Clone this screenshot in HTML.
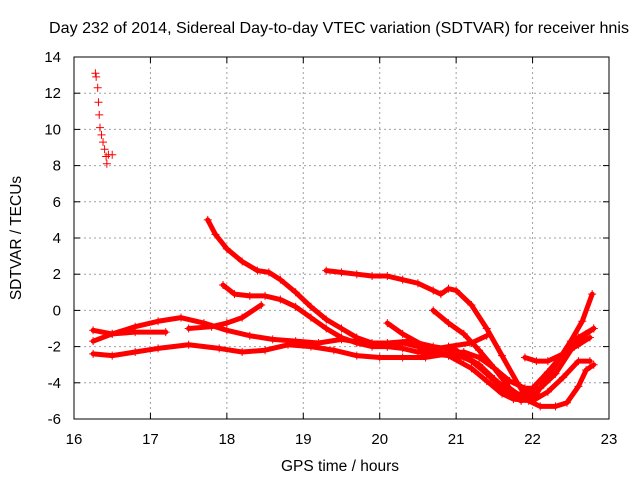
<!DOCTYPE html>
<html><head><meta charset="utf-8"><style>
body{margin:0;background:#fff}
svg{display:block;font-family:"Liberation Sans",sans-serif}
</style></head><body>
<svg id="c" width="640" height="480"></svg>
<script>
const xTicks=[16,17,18,19,20,21,22,23];
const yTicks=[14,12,10,8,6,4,2,0,-2,-4,-6];
const sSpike=[[16.28,13.1],[16.29,12.9],[16.31,12.3],[16.32,11.5],[16.33,10.8],[16.34,10.1],[16.36,9.7],[16.38,9.3],[16.40,8.9],[16.42,8.5],[16.43,8.1],[16.45,8.6],[16.5,8.6]];
const s1=[[17.75,5],[17.85,4.2],[18.0,3.4],[18.2,2.7],[18.4,2.2],[18.55,2.1],[18.7,1.7],[18.9,1.0],[19.1,0.2],[19.3,-0.5],[19.5,-1.0],[19.7,-1.5],[19.9,-1.8],[20.1,-2.0],[20.3,-2.1],[20.5,-2.3],[20.7,-2.4],[20.9,-2.5],[21.1,-2.6],[21.3,-3.0],[21.5,-3.8],[21.7,-4.5],[21.9,-4.7],[22.0,-4.5]];
const s2=[[17.95,1.4],[18.1,0.9],[18.3,0.8],[18.5,0.8],[18.7,0.6],[18.9,0.2],[19.1,-0.4],[19.3,-1.0],[19.5,-1.5],[19.7,-1.8],[19.9,-2.0],[20.1,-2.0],[20.3,-1.8],[20.5,-2.0],[20.7,-2.3],[20.9,-2.4],[21.1,-2.5],[21.3,-3.0],[21.5,-3.8],[21.7,-4.6],[21.85,-5.0],[22.0,-4.8]];
const s3=[[19.3,2.2],[19.5,2.1],[19.7,2.0],[19.9,1.9],[20.1,1.9],[20.3,1.7],[20.5,1.5],[20.7,1.1],[20.8,0.9],[20.9,1.2],[21.0,1.1],[21.2,0.3],[21.4,-1.0],[21.6,-2.5],[21.8,-4.0],[21.95,-5.0],[22.1,-5.3],[22.3,-5.3],[22.45,-5.1],[22.6,-4.2],[22.7,-3.3],[22.8,-3.0]];
const s4=[[16.25,-2.4],[16.5,-2.5],[16.8,-2.3],[17.1,-2.1],[17.5,-1.9],[17.9,-2.1],[18.2,-2.3],[18.5,-2.2],[18.8,-1.9],[19.1,-2.0],[19.4,-2.2],[19.7,-2.5],[20.0,-2.6],[20.3,-2.6],[20.6,-2.6],[20.9,-2.4],[21.1,-2.3],[21.3,-2.6],[21.5,-3.2],[21.7,-3.9],[21.9,-4.3],[22.1,-4.3],[22.3,-3.5],[22.5,-2.2],[22.7,-1.3],[22.8,-1.0]];
const s5=[[16.25,-1.7],[16.5,-1.3],[16.8,-0.9],[17.1,-0.6],[17.4,-0.4],[17.7,-0.7],[18.0,-1.1],[18.3,-1.4],[18.6,-1.6],[18.9,-1.7],[19.2,-1.8],[19.5,-1.6],[19.8,-1.8],[20.1,-1.8],[20.4,-1.7],[20.7,-2.0],[21.0,-2.2],[21.2,-2.8],[21.4,-3.5],[21.6,-4.3],[21.8,-4.7],[22.0,-4.3],[22.2,-3.4],[22.4,-2.4],[22.6,-1.5],[22.8,-1.0]];
const s6=[[16.25,-1.1],[16.5,-1.3],[16.8,-1.2],[17.2,-1.2]];
const s7=[[17.5,-1.0],[17.8,-0.9],[18.0,-0.7],[18.2,-0.4],[18.45,0.3]];
const s8=[[20.1,-0.7],[20.3,-1.3],[20.6,-2.0],[20.9,-2.5],[21.2,-3.2],[21.4,-3.9],[21.6,-4.6],[21.75,-4.9],[22.0,-5.0],[22.2,-4.5],[22.4,-3.7],[22.6,-2.8],[22.75,-2.8]];
const s9=[[20.7,0],[20.9,-0.7],[21.1,-1.3],[21.3,-2.2],[21.5,-3.2],[21.7,-4.3],[21.9,-4.9],[22.05,-4.6],[22.3,-3.0],[22.5,-1.7],[22.65,-0.6],[22.78,0.9]];
const s10=[[21.9,-2.6],[22.05,-2.8],[22.2,-2.8],[22.4,-2.4],[22.6,-1.9],[22.75,-1.5]];
const s11=[[20.5,-2.3],[20.9,-2.0],[21.2,-1.8],[21.4,-1.4]];
const lines=[s1,s2,s3,s4,s5,s6,s7,s8,s9,s10,s11];

const L=74,R=609,T=57,B=419;
const X=v=>L+(v-16)/(23-16)*(R-L);
const Y=v=>B-(v+6)/(20)*(B-T);
const svg=document.getElementById('c');
const NS='http://www.w3.org/2000/svg';
function mk(t,a,p){const e=document.createElementNS(NS,t);for(const k in a)e.setAttribute(k,a[k]);(p||svg).appendChild(e);return e;}
let e;
xTicks.forEach(v=>{
 if(v>16&&v<23){e=mk('line',{x1:X(v),x2:X(v),y1:T,y2:B,stroke:'#a0a0a0','stroke-dasharray':'2,3'});
 }
 e=mk('line',{x1:X(v),x2:X(v),y1:B,y2:B-6,stroke:'#000'});
 e=mk('line',{x1:X(v),x2:X(v),y1:T,y2:T+6,stroke:'#000'});
 e=mk('text',{x:X(v),y:B+25,'text-anchor':'middle','font-size':15});e.textContent=v;
 
});
yTicks.forEach(v=>{
 if(v>-6&&v<14){e=mk('line',{x1:L,x2:R,y1:Y(v),y2:Y(v),stroke:'#a0a0a0','stroke-dasharray':'2,3'});
 }
 e=mk('line',{x1:L,x2:L+6,y1:Y(v),y2:Y(v),stroke:'#000'});
 e=mk('line',{x1:R,x2:R-6,y1:Y(v),y2:Y(v),stroke:'#000'});
 e=mk('text',{x:L-13,y:Y(v)+5,'text-anchor':'end','font-size':15});e.textContent=v;
 
});
lines.forEach((s,i)=>{
 e=mk('polyline',{points:s.map(p=>X(p[0])+','+Y(p[1])).join(' '),fill:'none',stroke:'#ff0000','stroke-width':5,'stroke-linejoin':'round','stroke-linecap':'round'});
 
});
const g=mk('g',{stroke:'#ff0000','stroke-width':1});

lines.concat([sSpike]).forEach(s=>s.forEach(p=>{
 const x=X(p[0]),y=Y(p[1]);
 e=mk('path',{d:`M${x-4},${y}H${x+4}M${x},${y-4}V${y+4}`},g);
 
}));
e=mk('rect',{x:L,y:T,width:R-L,height:B-T,fill:'none',stroke:'#000','stroke-width':1});

e=mk('text',{x:339,y:33,'text-anchor':'middle','font-size':16,textLength:580,lengthAdjust:'spacingAndGlyphs'});e.textContent='Day 232 of 2014, Sidereal Day-to-day VTEC variation (SDTVAR) for receiver hnis';

e=mk('text',{x:340,y:471,'text-anchor':'middle','font-size':15.5});e.textContent='GPS time / hours';

e=mk('text',{x:0,y:0,'text-anchor':'middle','font-size':15.5,transform:'translate(21,238) rotate(-90)'});e.textContent='SDTVAR / TECUs';

</script>
</body></html>
